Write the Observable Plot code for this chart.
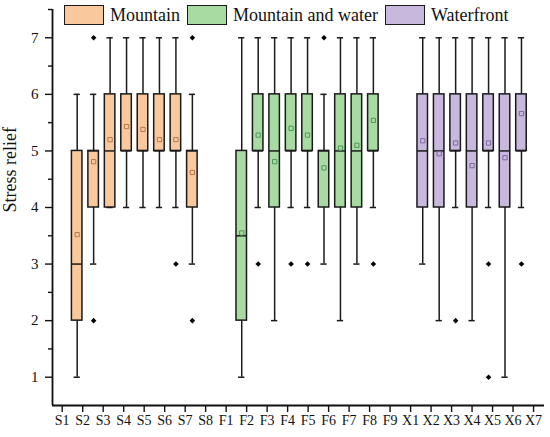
<!DOCTYPE html>
<html><head><meta charset="utf-8">
<script src="https://cdn.jsdelivr.net/npm/d3@7"></script>
<script src="https://cdn.jsdelivr.net/npm/@observablehq/plot@0.6"></script>
<style>
body{margin:0;background:#fff;}
#wrap{position:relative;width:550px;height:437px;font-family:"Liberation Serif","Times New Roman",serif;}
#legend{position:absolute;left:64px;top:5px;display:flex;align-items:center;font-size:18px;color:#111;white-space:nowrap;}
.sw{width:40px;height:20px;box-sizing:border-box;border:1.5px solid #1a1a1a;margin-right:6px;}
.lab{margin-right:7px;line-height:20px;}
</style></head><body><div id="wrap"><div id="chart"></div><div id="legend"></div></div>
<script>
// ---- data ----
const labels = ["S1","S2","S3","S4","S5","S6","S7","S8","F1","F2","F3","F4","F5","F6","F7","F8","F9","X1","X2","X3","X4","X5","X6","X7"];
const groupNames = ["Mountain","Mountain and water","Waterfront"];
const groupSizes = [8, 9, 7];
const groupFill = ["#F9C89D","#A8DBA1","#C8B8DD"];
const groupMeanStroke = ["#B9794A","#4E9856","#7D6B9E"];
const whiskerLow  = [1,3,4,4,4,4,4,3, 1,4,2,4,4,3,2,3,4, 3,2,4,2,4,1,4];
const q1          = [2,4,4,5,5,5,5,4, 2,5,4,5,5,4,4,4,5, 4,4,5,4,5,4,5];
const median      = [3,5,5,5,5,5,5,5, 3.5,5,5,5,5,5,5,5,5, 5,5,5,5,5,5,5];
const q3          = [5,5,6,6,6,6,6,5, 5,6,6,6,6,5,6,6,6, 6,6,6,6,6,6,6];
const whiskerHigh = [6,6,7,7,7,7,7,6, 7,7,7,7,7,6,7,7,7, 7,7,7,7,7,7,7];
const means = [3.52,4.81,5.2,5.43,5.38,5.2,5.2,4.62, 3.55,5.28,4.81,5.40,5.28,4.70,5.05,5.10,5.54, 5.18,4.95,5.14,4.74,5.14,4.88,5.66];
const outliers = [[],[7,2],[],[],[],[],[3],[7,2], [],[3],[],[3],[3],[7],[],[],[3], [],[],[2],[],[3,1],[],[3]];
const yTicks = [1,2,3,4,5,6,7];

// ---- layout helpers ----
const GAP = 2;            // empty slots between groups
const BW = 0.32;          // box half width (slot units)
const CAP = 0.19;         // whisker cap half width
const xDomain = [-1.5, 28.4];
const tickStart = -0.91, tickStep = 1.2454;
const xTicks = labels.map((_, i) => tickStart + i * tickStep);
const yMinor = d3.range(1.5, 8, 1);

const boxes = [];
let slot = 0, k = 0;
groupSizes.forEach((n, g) => {
  for (let j = 0; j < n; j++) {
    boxes.push({label: labels[k], group: g, slot, lo: whiskerLow[k], q1: q1[k], med: median[k], q3: q3[k], hi: whiskerHigh[k], mean: means[k], out: outliers[k]});
    k++; slot++;
  }
  slot += GAP;
});
const outlierRows = boxes.flatMap(b => b.out.map(v => ({slot: b.slot, value: v})));
const ink = "#1a1a1a";

const plot = Plot.plot({
  width: 550, height: 437,
  marginLeft: 52, marginRight: 6, marginTop: 9, marginBottom: 32,
  style: {fontFamily: '"Liberation Serif","Times New Roman",serif', fontSize: "15px", color: "#111", background: "transparent"},
  x: {type: "linear", domain: xDomain},
  y: {domain: [0.5, 7.5]},
  color: {type: "identity"},
  marks: [
    Plot.axisY({ticks: yTicks, tickSize: 7, tickPadding: 7, fontSize: 15, strokeWidth: 1.4, label: null, tickFormat: d => String(d)}),
    Plot.axisY({ticks: yMinor, tickSize: 4, tickFormat: () => "", label: null, strokeWidth: 1.4}),
    Plot.axisX({ticks: xTicks, tickFormat: d => labels[xTicks.indexOf(d)], tickSize: 7, tickPadding: 3, fontSize: 14, strokeWidth: 1.4, label: null}),
    Plot.ruleX([xDomain[0]], {stroke: "#111", strokeWidth: 1.8}),
    Plot.ruleY([0.5], {stroke: "#111", strokeWidth: 1.8}),
    Plot.text(["Stress relief"], {frameAnchor: "left", text: d => d, rotate: -90, dx: -42, dy: 5, fontSize: 18, fill: "#111"}),
    Plot.ruleX(boxes, {x: "slot", y1: "lo", y2: "q1", stroke: ink, strokeWidth: 1.5}),
    Plot.ruleX(boxes, {x: "slot", y1: "q3", y2: "hi", stroke: ink, strokeWidth: 1.5}),
    Plot.ruleY(boxes, {y: "lo", x1: d => d.slot - CAP, x2: d => d.slot + CAP, stroke: ink, strokeWidth: 1.5}),
    Plot.ruleY(boxes, {y: "hi", x1: d => d.slot - CAP, x2: d => d.slot + CAP, stroke: ink, strokeWidth: 1.5}),
    Plot.rect(boxes, {x1: d => d.slot - BW, x2: d => d.slot + BW, y1: "q1", y2: "q3", fill: d => groupFill[d.group], stroke: ink, strokeWidth: 1.5}),
    Plot.ruleY(boxes, {y: "med", x1: d => d.slot - BW, x2: d => d.slot + BW, stroke: ink, strokeWidth: 1.5}),
    Plot.dot(boxes, {x: "slot", y: "mean", symbol: "square", r: 2.4, stroke: d => groupMeanStroke[d.group], strokeWidth: 1, fill: "none"}),
    Plot.dot(outlierRows, {x: "slot", y: "value", symbol: "diamond2", r: 2.5, fill: "#000", stroke: "none"})
  ]
});
document.getElementById("chart").appendChild(plot);

const legend = document.getElementById("legend");
groupNames.forEach((name, g) => {
  const sw = document.createElement("div");
  sw.className = "sw"; sw.style.background = groupFill[g];
  const lab = document.createElement("span");
  lab.className = "lab"; lab.textContent = name;
  legend.appendChild(sw); legend.appendChild(lab);
});
</script></body></html>
